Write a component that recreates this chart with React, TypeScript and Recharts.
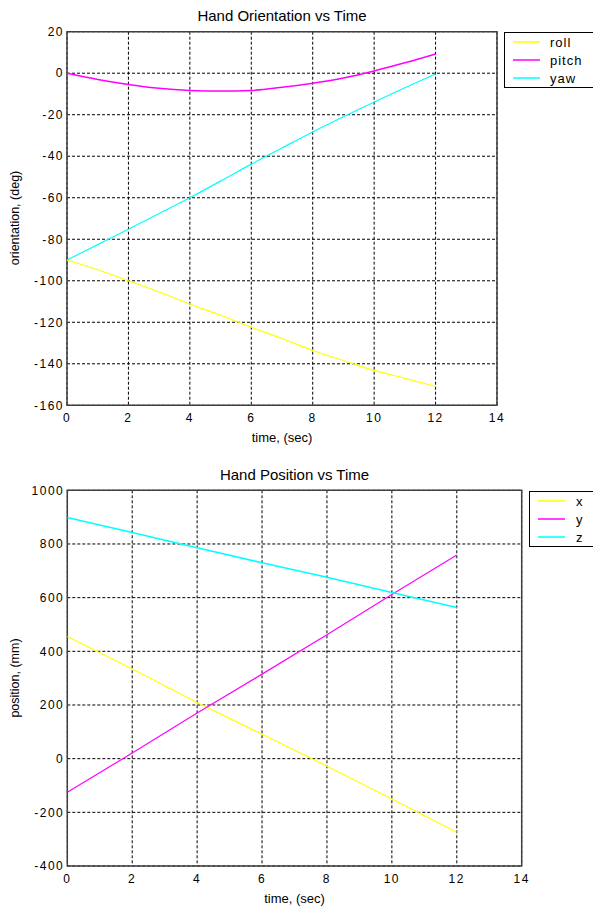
import React from 'react'
import { LineChart, Line, XAxis, YAxis, CartesianGrid, Legend, ReferenceArea } from 'recharts'

// top panel: hand orientation (deg), read every second
const orientTime = [0, 1, 2, 3, 4, 5, 6, 7, 8, 9, 10, 11, 12]
const roll = [-90, -94.7, -100, -105.4, -111.2, -116.6, -122.4, -127.8, -133.6, -138.4, -143.2, -147, -150.9]
const pitch = [0, -3, -5.4, -7.3, -8.3, -8.6, -8.3, -6.8, -4.8, -2.3, 1.1, 5, 9.3]
const yaw = [-90, -82.6, -75.2, -67.6, -60, -52, -43.8, -36, -28.3, -21, -13.9, -7, -0.3]
const orientNames = ['roll', 'pitch', 'yaw']

// bottom panel: hand position (mm)
const posTime = [0, 2, 4, 6, 8, 10, 12]
const posX = [455, 334, 209, 91, -28, -150, -274]
const posY = [-125, 21, 170, 315, 462, 612, 759]
const posZ = [899, 843, 786, 730, 676, 619, 563]
const posNames = ['x', 'y', 'z']

const timeTicks = [0, 2, 4, 6, 8, 10, 12, 14]
const orientTicks = [-160, -140, -120, -100, -80, -60, -40, -20, 0, 20]
const posTicks = [-400, -200, 0, 200, 400, 600, 800, 1000]

const FONT = '"Liberation Sans", Arial, sans-serif'
const YELLOW = '#ffff00'
const MAGENTA = '#ff00ff'
const CYAN = '#00ffff'

const toRows = (t: number[], v: number[]) => t.map((x, i) => ({ t: x, v: v[i] }))

const tickStyle = { fill: '#000', fontSize: 12, fontFamily: FONT, letterSpacing: 1.5 }

function makeLegend(lineLeft: number, textLeft: number) {
  return (props: any) => (
    <div
      style={{
        border: '1px solid #000',
        background: '#fff',
        height: 56,
        width: 140,
        boxSizing: 'border-box',
        position: 'relative',
        fontFamily: FONT,
        fontSize: 13,
        letterSpacing: 1,
      }}
    >
      {(props.payload || []).map((p: any, i: number) => (
        <div key={p.value} style={{ position: 'absolute', top: 1 + i * 18, left: 0, height: 18, width: '100%' }}>
          <svg style={{ position: 'absolute', left: lineLeft, top: 6 }} width={27} height={4}>
            <line x1={0} x2={27} y1={2} y2={2} stroke={p.color} strokeWidth={1.5} />
          </svg>
          <div style={{ position: 'absolute', left: textLeft, top: 1, lineHeight: '16px', color: '#000' }}>{p.value}</div>
        </div>
      ))}
    </div>
  )
}

function Caption({ x, y, size, rotate, children }: any) {
  return (
    <div
      style={{
        position: 'absolute',
        left: x,
        top: y,
        transform: `translate(-50%, -50%)${rotate ? ' rotate(-90deg)' : ''}`,
        fontFamily: FONT,
        fontSize: size,
        lineHeight: 1,
        whiteSpace: 'nowrap',
        color: '#000',
      }}
    >
      {children}
    </div>
  )
}

export default function App() {
  return (
    <div style={{ position: 'absolute', left: 0, top: 0, width: 593, height: 909, overflow: 'hidden', background: '#fff' }}>
      <Caption x={282} y={15} size={15}>Hand Orientation vs Time</Caption>
      <Caption x={282} y={437} size={13}>time, (sec)</Caption>
      <Caption x={15} y={218} size={12.5} rotate>orientation, (deg)</Caption>

      <div style={{ position: 'absolute', left: 0, top: 0 }}>
        <LineChart width={593} height={460} margin={{ top: 31.7, right: 96, bottom: 24.7, left: 0 }}>
          <CartesianGrid stroke="#000" strokeDasharray="3 2" />
          <XAxis
            type="number"
            dataKey="t"
            domain={[0, 14]}
            ticks={timeTicks}
            interval={0}
            height={30}
            axisLine={false}
            tickLine={false}
            tick={tickStyle}
          />
          <YAxis
            type="number"
            domain={[-160, 20]}
            ticks={orientTicks}
            interval={0}
            width={67}
            axisLine={false}
            tickLine={false}
            tickSize={2}
            tickMargin={1}
            tick={tickStyle}
          />
          <Line data={toRows(orientTime, roll)} dataKey="v" name={orientNames[0]} type="monotone" stroke={YELLOW} strokeWidth={1.2} dot={false} isAnimationActive={false} />
          <Line data={toRows(orientTime, pitch)} dataKey="v" name={orientNames[1]} type="monotone" stroke={MAGENTA} strokeWidth={1.5} dot={false} isAnimationActive={false} />
          <Line data={toRows(orientTime, yaw)} dataKey="v" name={orientNames[2]} type="monotone" stroke={CYAN} strokeWidth={1.2} dot={false} isAnimationActive={false} />
          <ReferenceArea x1={0} x2={14} y1={-160} y2={20} fill="none" stroke="#404040" strokeWidth={1.5} />
          <Legend
            layout="horizontal"
            verticalAlign="middle"
            align="center"
            itemSorter={(item: any) => orientNames.indexOf(item.value)}
            content={makeLegend(8, 45)}
            wrapperStyle={{ left: 504, top: 32, width: 140, height: 56 }}
          />
        </LineChart>
      </div>

      <Caption x={294.5} y={474} size={15}>Hand Position vs Time</Caption>
      <Caption x={294.5} y={898} size={13}>time, (sec)</Caption>
      <Caption x={15} y={678} size={12.5} rotate>position, (mm)</Caption>

      <div style={{ position: 'absolute', left: 0, top: 460 }}>
        <LineChart width={593} height={449} margin={{ top: 30.3, right: 71.3, bottom: 13, left: 0 }}>
          <CartesianGrid stroke="#000" strokeDasharray="3 2" />
          <XAxis
            type="number"
            dataKey="t"
            domain={[0, 14]}
            ticks={timeTicks}
            interval={0}
            height={30}
            axisLine={false}
            tickLine={false}
            tick={tickStyle}
          />
          <YAxis
            type="number"
            domain={[-400, 1000]}
            ticks={posTicks}
            interval={0}
            width={67.3}
            axisLine={false}
            tickLine={false}
            tickSize={2}
            tickMargin={1}
            tick={tickStyle}
          />
          <Line data={toRows(posTime, posX)} dataKey="v" name={posNames[0]} type="linear" stroke={YELLOW} strokeWidth={1.2} dot={false} isAnimationActive={false} />
          <Line data={toRows(posTime, posY)} dataKey="v" name={posNames[1]} type="linear" stroke={MAGENTA} strokeWidth={1.2} dot={false} isAnimationActive={false} />
          <Line data={toRows(posTime, posZ)} dataKey="v" name={posNames[2]} type="linear" stroke={CYAN} strokeWidth={1.5} dot={false} isAnimationActive={false} />
          <ReferenceArea x1={0} x2={14} y1={-400} y2={1000} fill="none" stroke="#404040" strokeWidth={1.5} />
          <Legend
            layout="horizontal"
            verticalAlign="middle"
            align="center"
            itemSorter={(item: any) => posNames.indexOf(item.value)}
            content={makeLegend(8, 46)}
            wrapperStyle={{ left: 529, top: 31, width: 140, height: 57 }}
          />
        </LineChart>
      </div>
    </div>
  )
}
